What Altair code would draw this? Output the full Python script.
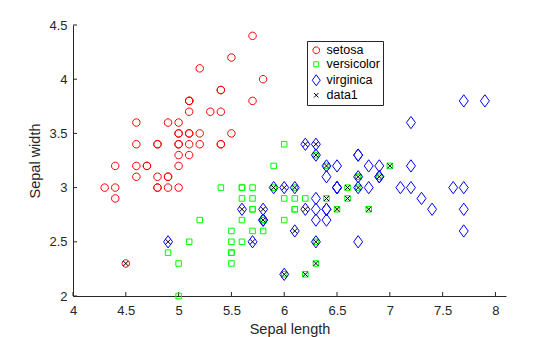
import altair as alt
import pandas as pd

# Fisher iris: sepal length / sepal width by species
setosa_x = [5.1, 4.9, 4.7, 4.6, 5.0, 5.4, 4.6, 5.0, 4.4, 4.9, 5.4, 4.8, 4.8, 4.3, 5.8, 5.7, 5.4, 5.1, 5.7, 5.1,
            5.4, 5.1, 4.6, 5.1, 4.8, 5.0, 5.0, 5.2, 5.2, 4.7, 4.8, 5.4, 5.2, 5.5, 4.9, 5.0, 5.5, 4.9, 4.4, 5.1,
            5.0, 4.5, 4.4, 5.0, 5.1, 4.8, 5.1, 4.6, 5.3, 5.0]
setosa_y = [3.5, 3.0, 3.2, 3.1, 3.6, 3.9, 3.4, 3.4, 2.9, 3.1, 3.7, 3.4, 3.0, 3.0, 4.0, 4.4, 3.9, 3.5, 3.8, 3.8,
            3.4, 3.7, 3.6, 3.3, 3.4, 3.0, 3.4, 3.5, 3.4, 3.2, 3.1, 3.4, 4.1, 4.2, 3.1, 3.2, 3.5, 3.6, 3.0, 3.4,
            3.5, 2.3, 3.2, 3.5, 3.8, 3.0, 3.8, 3.2, 3.7, 3.3]
versicolor_x = [7.0, 6.4, 6.9, 5.5, 6.5, 5.7, 6.3, 4.9, 6.6, 5.2, 5.0, 5.9, 6.0, 6.1, 5.6, 6.7, 5.6, 5.8, 6.2, 5.6,
                5.9, 6.1, 6.3, 6.1, 6.4, 6.6, 6.8, 6.7, 6.0, 5.7, 5.5, 5.5, 5.8, 6.0, 5.4, 6.0, 6.7, 6.3, 5.6, 5.5,
                5.5, 6.1, 5.8, 5.0, 5.6, 5.7, 5.7, 6.2, 5.1, 5.7]
versicolor_y = [3.2, 3.2, 3.1, 2.3, 2.8, 2.8, 3.3, 2.4, 2.9, 2.7, 2.0, 3.0, 2.2, 2.9, 2.9, 3.1, 3.0, 2.7, 2.2, 2.5,
                3.2, 2.8, 2.5, 2.8, 2.9, 3.0, 2.8, 3.0, 2.9, 2.6, 2.4, 2.4, 2.7, 2.7, 3.0, 3.4, 3.1, 2.3, 3.0, 2.5,
                2.6, 3.0, 2.6, 2.3, 2.7, 3.0, 2.9, 2.9, 2.5, 2.8]
virginica_x = [6.3, 5.8, 7.1, 6.3, 6.5, 7.6, 4.9, 7.3, 6.7, 7.2, 6.5, 6.4, 6.8, 5.7, 5.8, 6.4, 6.5, 7.7, 7.7, 6.0,
               6.9, 5.6, 7.7, 6.3, 6.7, 7.2, 6.2, 6.1, 6.4, 7.2, 7.4, 7.9, 6.4, 6.3, 6.1, 7.7, 6.3, 6.4, 6.0, 6.9,
               6.7, 6.9, 5.8, 6.8, 6.7, 6.7, 6.3, 6.5, 6.2, 5.9]
virginica_y = [3.3, 2.7, 3.0, 2.9, 3.0, 3.0, 2.5, 2.9, 2.5, 3.6, 3.2, 2.7, 3.0, 2.5, 2.8, 3.2, 3.0, 3.8, 2.6, 2.2,
               3.2, 2.8, 2.8, 2.7, 3.3, 3.2, 2.8, 3.0, 2.8, 3.0, 2.8, 3.8, 2.8, 2.8, 2.6, 3.0, 3.4, 3.1, 3.0, 3.1,
               3.1, 3.1, 2.7, 3.2, 3.3, 3.0, 2.5, 3.0, 3.4, 3.0]
# misclassified points ("data1")
data1_x = [4.5, 4.9, 5.6, 5.7, 5.8, 5.8, 5.9, 6.0, 6.1, 6.0, 6.1, 6.2, 6.2, 6.3, 6.3, 6.4, 6.7, 6.9, 6.7, 6.3,
           7.0, 6.6, 6.4, 6.6, 6.5, 6.8, 6.3, 6.2]
data1_y = [2.3, 2.5, 2.8, 2.5, 2.7, 2.8, 3.0, 3.0, 3.0, 2.2, 2.6, 2.8, 3.4, 3.4, 3.3, 3.2, 3.1, 3.1, 3.0, 2.5,
           3.2, 3.0, 2.9, 2.9, 2.8, 2.8, 2.3, 2.2]

groups = ["setosa", "versicolor", "virginica", "data1"]
colors = ["#ff0000", "#00ff00", "#0000ff", "#000000"]
x_ticks = [4, 4.5, 5, 5.5, 6, 6.5, 7, 7.5, 8]
y_ticks = [2, 2.5, 3, 3.5, 4, 4.5]

circle_path = ("M0.61,0C0.61,0.337 0.337,0.61 0,0.61C-0.337,0.61 -0.61,0.337 -0.61,0"
               "C-0.61,-0.337 -0.337,-0.61 0,-0.61C0.337,-0.61 0.61,-0.337 0.61,0Z")
square_path = "M-0.45,-0.45L0.45,-0.45L0.45,0.45L-0.45,0.45Z"
diamond_path = "M0,-1L0.73,0L0,1L-0.73,0Z"
x_path = "M-0.41,-0.41L0.41,0.41M-0.41,0.41L0.41,-0.41"
shapes = [circle_path, square_path, diamond_path, x_path]

rows = []
for g, xs, ys in zip(groups,
                     [setosa_x, versicolor_x, virginica_x, data1_x],
                     [setosa_y, versicolor_y, virginica_y, data1_y]):
    for a, b in zip(xs, ys):
        rows.append({"x": a, "y": b, "group": g})
df = pd.DataFrame(rows)

W, H = 433, 271
xscale = alt.Scale(domain=[4, 8.1], nice=False, zero=False)
yscale = alt.Scale(domain=[2, 4.5], nice=False, zero=False)


def xenc():
    return alt.X("x:Q", scale=xscale, title="Sepal length",
                 axis=alt.Axis(values=x_ticks, format="~g", labelFlush=False))


def yenc():
    return alt.Y("y:Q", scale=yscale, title="Sepal width",
                 axis=alt.Axis(values=y_ticks, format="~g", labelFlush=False))


leg = alt.Legend(title=None, orient="none", legendX=234, legendY=16)

points = alt.Chart(df).mark_point(filled=False, opacity=1, strokeWidth=1, size=151).encode(
    x=xenc(),
    y=yenc(),
    color=alt.Color("group:N", scale=alt.Scale(domain=groups, range=colors), legend=leg),
    shape=alt.Shape("group:N", scale=alt.Scale(domain=groups, range=shapes), legend=leg),
)

xt = alt.Chart(pd.DataFrame({"x": x_ticks})).mark_rule(color="#262626", strokeWidth=1).encode(
    x=xenc(),
    y=alt.value(H), y2=alt.value(H - 4),
)
yt = alt.Chart(pd.DataFrame({"y": y_ticks})).mark_rule(color="#262626", strokeWidth=1).encode(
    y=yenc(),
    x=alt.value(0), x2=alt.value(4),
)

chart = alt.layer(xt, yt, points).properties(
    width=W, height=H,
    padding={"left": 73, "top": 25, "right": 54, "bottom": 41},
    autosize=alt.AutoSizeParams(type="none"),
).configure_view(stroke=None).configure_axis(
    grid=False, ticks=False, tickSize=0, labelFlush=False,
    domainColor="#262626", domainWidth=1,
    labelColor="#262626", labelFont="Liberation Sans", labelFontSize=13,
    titleColor="#262626", titleFont="Liberation Sans", titleFontSize=14.5, titleFontWeight="normal",
).configure_axisX(labelPadding=8, titlePadding=5).configure_axisY(labelPadding=6, titlePadding=6).configure_legend(
    strokeColor="#262626", fillColor="white", padding=3, rowPadding=1,
    labelFont="Liberation Sans", labelFontSize=12.5, labelColor="#000000", labelOffset=4,
    symbolSize=120, symbolStrokeWidth=1,
)

chart.save("out.html", embed_options={"renderer": "svg", "actions": False})
